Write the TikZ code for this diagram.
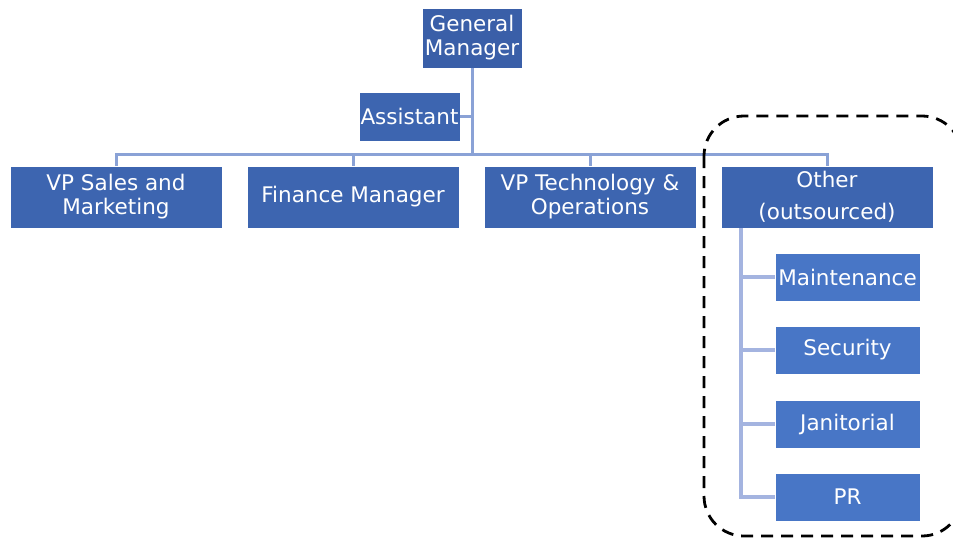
\documentclass[tikz,border=0pt]{standalone}
\usepackage{fontspec}
\setmainfont{DejaVu Sans}
\definecolor{topblue}{HTML}{3A5FA8}
\definecolor{midblue}{HTML}{3D65B0}
\definecolor{subblue}{HTML}{4876C6}
\definecolor{linecol}{HTML}{8AA2D6}
\definecolor{sublinecol}{HTML}{A4B4E0}
\begin{document}
\begin{tikzpicture}[x=1pt,y=-1pt,
  box/.style={fill=#1,draw=white,line width=0.6pt,text=white,align=center,inner sep=0pt,
    font=\fontsize{21.5}{24}\selectfont},
  conn/.style={draw=linecol,line width=3pt},
  subconn/.style={draw=sublinecol,line width=3.2pt}]
\useasboundingbox (0,0) rectangle (953,539);
\fill[white] (0,0) rectangle (953,539);
% nodes
\node[box=topblue,minimum width=100pt,minimum height=60pt] (gm) at (472,38) {General\\Manager};
\node[box=midblue,minimum width=101pt,minimum height=49pt] (asst) at (409.5,116.5) {Assistant};
\node[box=midblue,minimum width=212pt,minimum height=62pt] (vps) at (116,197) {VP Sales and\\Marketing};
\node[box=midblue,minimum width=212pt,minimum height=62pt] (fin) at (353,197) {Finance Manager};
\node[box=midblue,minimum width=212pt,minimum height=62pt] (vpt) at (590,197) {VP Technology \&\\Operations};
\node[box=midblue,minimum width=212pt,minimum height=62pt,font=\fontsize{21.5}{32}\selectfont] (oth) at (827,197) {Other\\(outsourced)};
\node[box=subblue,minimum width=145pt,minimum height=48pt] (mnt) at (847.5,277) {Maintenance};
\node[box=subblue,minimum width=145pt,minimum height=48pt] (sec) at (847.5,350) {Security};
\node[box=subblue,minimum width=145pt,minimum height=48pt] (jan) at (847.5,424) {Janitorial};
\node[box=subblue,minimum width=145pt,minimum height=48pt] (pr) at (847.5,497) {PR};
% coordinates
\coordinate (bus) at (472,154);
\coordinate (sp) at (741,0);
% connectors
\draw[conn] (gm.south) -- (gm.south |- bus);
\draw[conn] (asst.east) -- (asst.east -| gm.south);
\draw[conn] (vps.north) -- (vps.north |- bus) -- (oth.north |- bus) -- (oth.north);
\draw[conn] (fin.north) -- (fin.north |- bus);
\draw[conn] (vpt.north) -- (vpt.north |- bus);
\draw[subconn] (oth.south -| sp) |- (pr.west);
\draw[subconn] (sp |- mnt.west) -- (mnt.west);
\draw[subconn] (sp |- sec.west) -- (sec.west);
\draw[subconn] (sp |- jan.west) -- (jan.west);
% dashed group
\begin{scope}
\clip (0,0) rectangle (953,539);
\draw[black,line width=2.8pt,dash pattern=on 12pt off 8pt,rounded corners=40pt]
  (704,116) rectangle (962,536);
\end{scope}
\end{tikzpicture}
\end{document}
